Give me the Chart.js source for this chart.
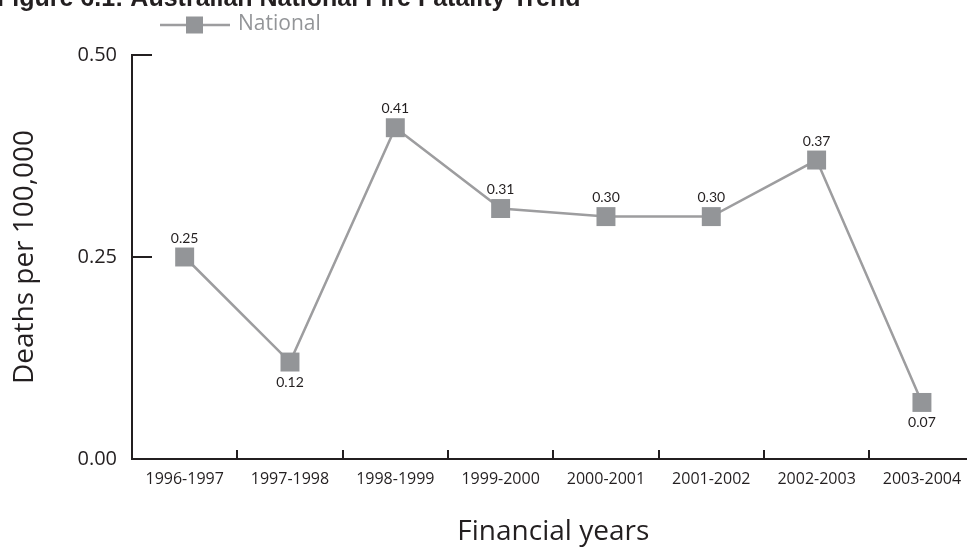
<!DOCTYPE html>
<html>
<head>
<meta charset="utf-8">
<script src="https://cdn.jsdelivr.net/npm/chart.js@4.4.1/dist/chart.umd.min.js"></script>
<style>
  html, body { margin: 0; padding: 0; background: #ffffff; overflow: hidden; }
  canvas { display: block; }
</style>
</head>
<body>
<canvas id="chart" width="988" height="549"></canvas>
<script>
// Fatality rate by financial year
const years = ['1996-1997', '1997-1998', '1998-1999', '1999-2000', '2000-2001', '2001-2002', '2002-2003', '2003-2004'];
const nationalRate = [0.25, 0.12, 0.41, 0.31, 0.30, 0.30, 0.37, 0.07];
const rateTicks = [0, 0.25, 0.5];

const chartTitle = 'Figure 6.1: Australian National Fire Fatality Trend';
const seriesName = 'National';
const yTitle = 'Deaths per 100,000';
const xTitle = 'Financial years';

const INK = '#231f20';
const MARKER = '#939598';
const LINE = '#9d9d9f';
const SANS = '"Open Sans", "DejaVu Sans", sans-serif';

// Title, legend, inward tick marks and point value labels
const decorations = {
  id: 'decorations',
  beforeDatasetsDraw(chart) {
    const { ctx, chartArea, scales } = chart;
    ctx.save();
    ctx.strokeStyle = INK;
    ctx.lineWidth = 2;
    // y ticks pointing into the plot
    scales.y.ticks.forEach(t => {
      const py = Math.round(scales.y.getPixelForValue(t.value));
      ctx.beginPath();
      ctx.moveTo(chartArea.left, py);
      ctx.lineTo(chartArea.left + 20, py);
      ctx.stroke();
    });
    // x ticks at category boundaries
    for (let i = 1; i < years.length; i++) {
      const px = Math.round((scales.x.getPixelForTick(i - 1) + scales.x.getPixelForTick(i)) / 2);
      ctx.beginPath();
      ctx.moveTo(px, chartArea.bottom);
      ctx.lineTo(px, chartArea.bottom - 9);
      ctx.stroke();
    }
    ctx.restore();
  },
  afterDatasetsDraw(chart) {
    const { ctx } = chart;
    const ds = chart.data.datasets[0];
    const meta = chart.getDatasetMeta(0);
    ctx.save();
    ctx.fillStyle = INK;
    ctx.font = '14px Lato, "Open Sans", sans-serif';
    ctx.textAlign = 'center';
    ctx.textBaseline = 'middle';
    meta.data.forEach((pt, i) => {
      const v = ds.data[i];
      const prev = i > 0 ? ds.data[i - 1] : -Infinity;
      const next = i < ds.data.length - 1 ? ds.data[i + 1] : Infinity;
      const below = v < prev && v < next;
      ctx.fillText(v.toFixed(2), pt.x, below ? pt.y + 20 : pt.y - 19);
    });

    // chart title
    ctx.fillStyle = INK;
    ctx.font = 'bold 25px "Liberation Sans", Arial, sans-serif';
    ctx.textAlign = 'left';
    ctx.textBaseline = 'alphabetic';
    ctx.fillText(chartTitle, -3, 6);

    // legend: line with square marker
    const ly = 25;
    ctx.strokeStyle = ds.borderColor;
    ctx.lineWidth = 2.5;
    ctx.beginPath();
    ctx.moveTo(160, ly);
    ctx.lineTo(230, ly);
    ctx.stroke();
    ctx.fillStyle = ds.pointBackgroundColor;
    ctx.fillRect(186, ly - 8.5, 17, 17);
    ctx.fillStyle = MARKER;
    ctx.font = '21px ' + SANS;
    ctx.textBaseline = 'middle';
    ctx.fillText(seriesName, 238, ly - 1);
    ctx.restore();
  }
};

new Chart(document.getElementById('chart'), {
  type: 'line',
  data: {
    labels: years,
    datasets: [{
      label: seriesName,
      data: nationalRate,
      borderColor: LINE,
      borderWidth: 2.5,
      pointStyle: 'rect',
      pointRadius: 13.4,
      pointHoverRadius: 13.4,
      pointBackgroundColor: MARKER,
      pointBorderColor: MARKER,
      pointBorderWidth: 0,
      tension: 0,
      clip: false
    }]
  },
  options: {
    responsive: false,
    maintainAspectRatio: false,
    animation: false,
    events: [],
    layout: { padding: { top: 55, right: 2, left: 0, bottom: 0 } },
    plugins: {
      legend: { display: false },
      title: { display: false },
      tooltip: { enabled: false }
    },
    scales: {
      x: {
        type: 'category',
        offset: true,
        grid: { display: false, drawTicks: false },
        border: { display: true, color: INK, width: 2 },
        ticks: {
          color: INK,
          font: { family: SANS, size: 16 },
          padding: 11,
          maxRotation: 0,
          autoSkip: false
        },
        title: {
          display: true,
          text: xTitle,
          color: INK,
          font: { family: SANS, size: 28 },
          padding: { top: 0, bottom: 0 }
        },
        afterFit(scale) { scale.height = 90; }
      },
      y: {
        min: 0,
        max: 0.5,
        afterBuildTicks(scale) { scale.ticks = rateTicks.map(v => ({ value: v })); },
        grid: { display: false, drawTicks: false },
        border: { display: true, color: INK, width: 2 },
        ticks: {
          color: INK,
          font: { family: SANS, size: 20 },
          padding: 15,
          callback: v => Number(v).toFixed(2)
        },
        title: {
          display: true,
          text: yTitle,
          color: INK,
          font: { family: SANS, size: 28 },
          padding: { top: 8, bottom: 0 }
        },
        afterFit(scale) { scale.width = 132; }
      }
    }
  },
  plugins: [decorations]
});
</script>
</body>
</html>
